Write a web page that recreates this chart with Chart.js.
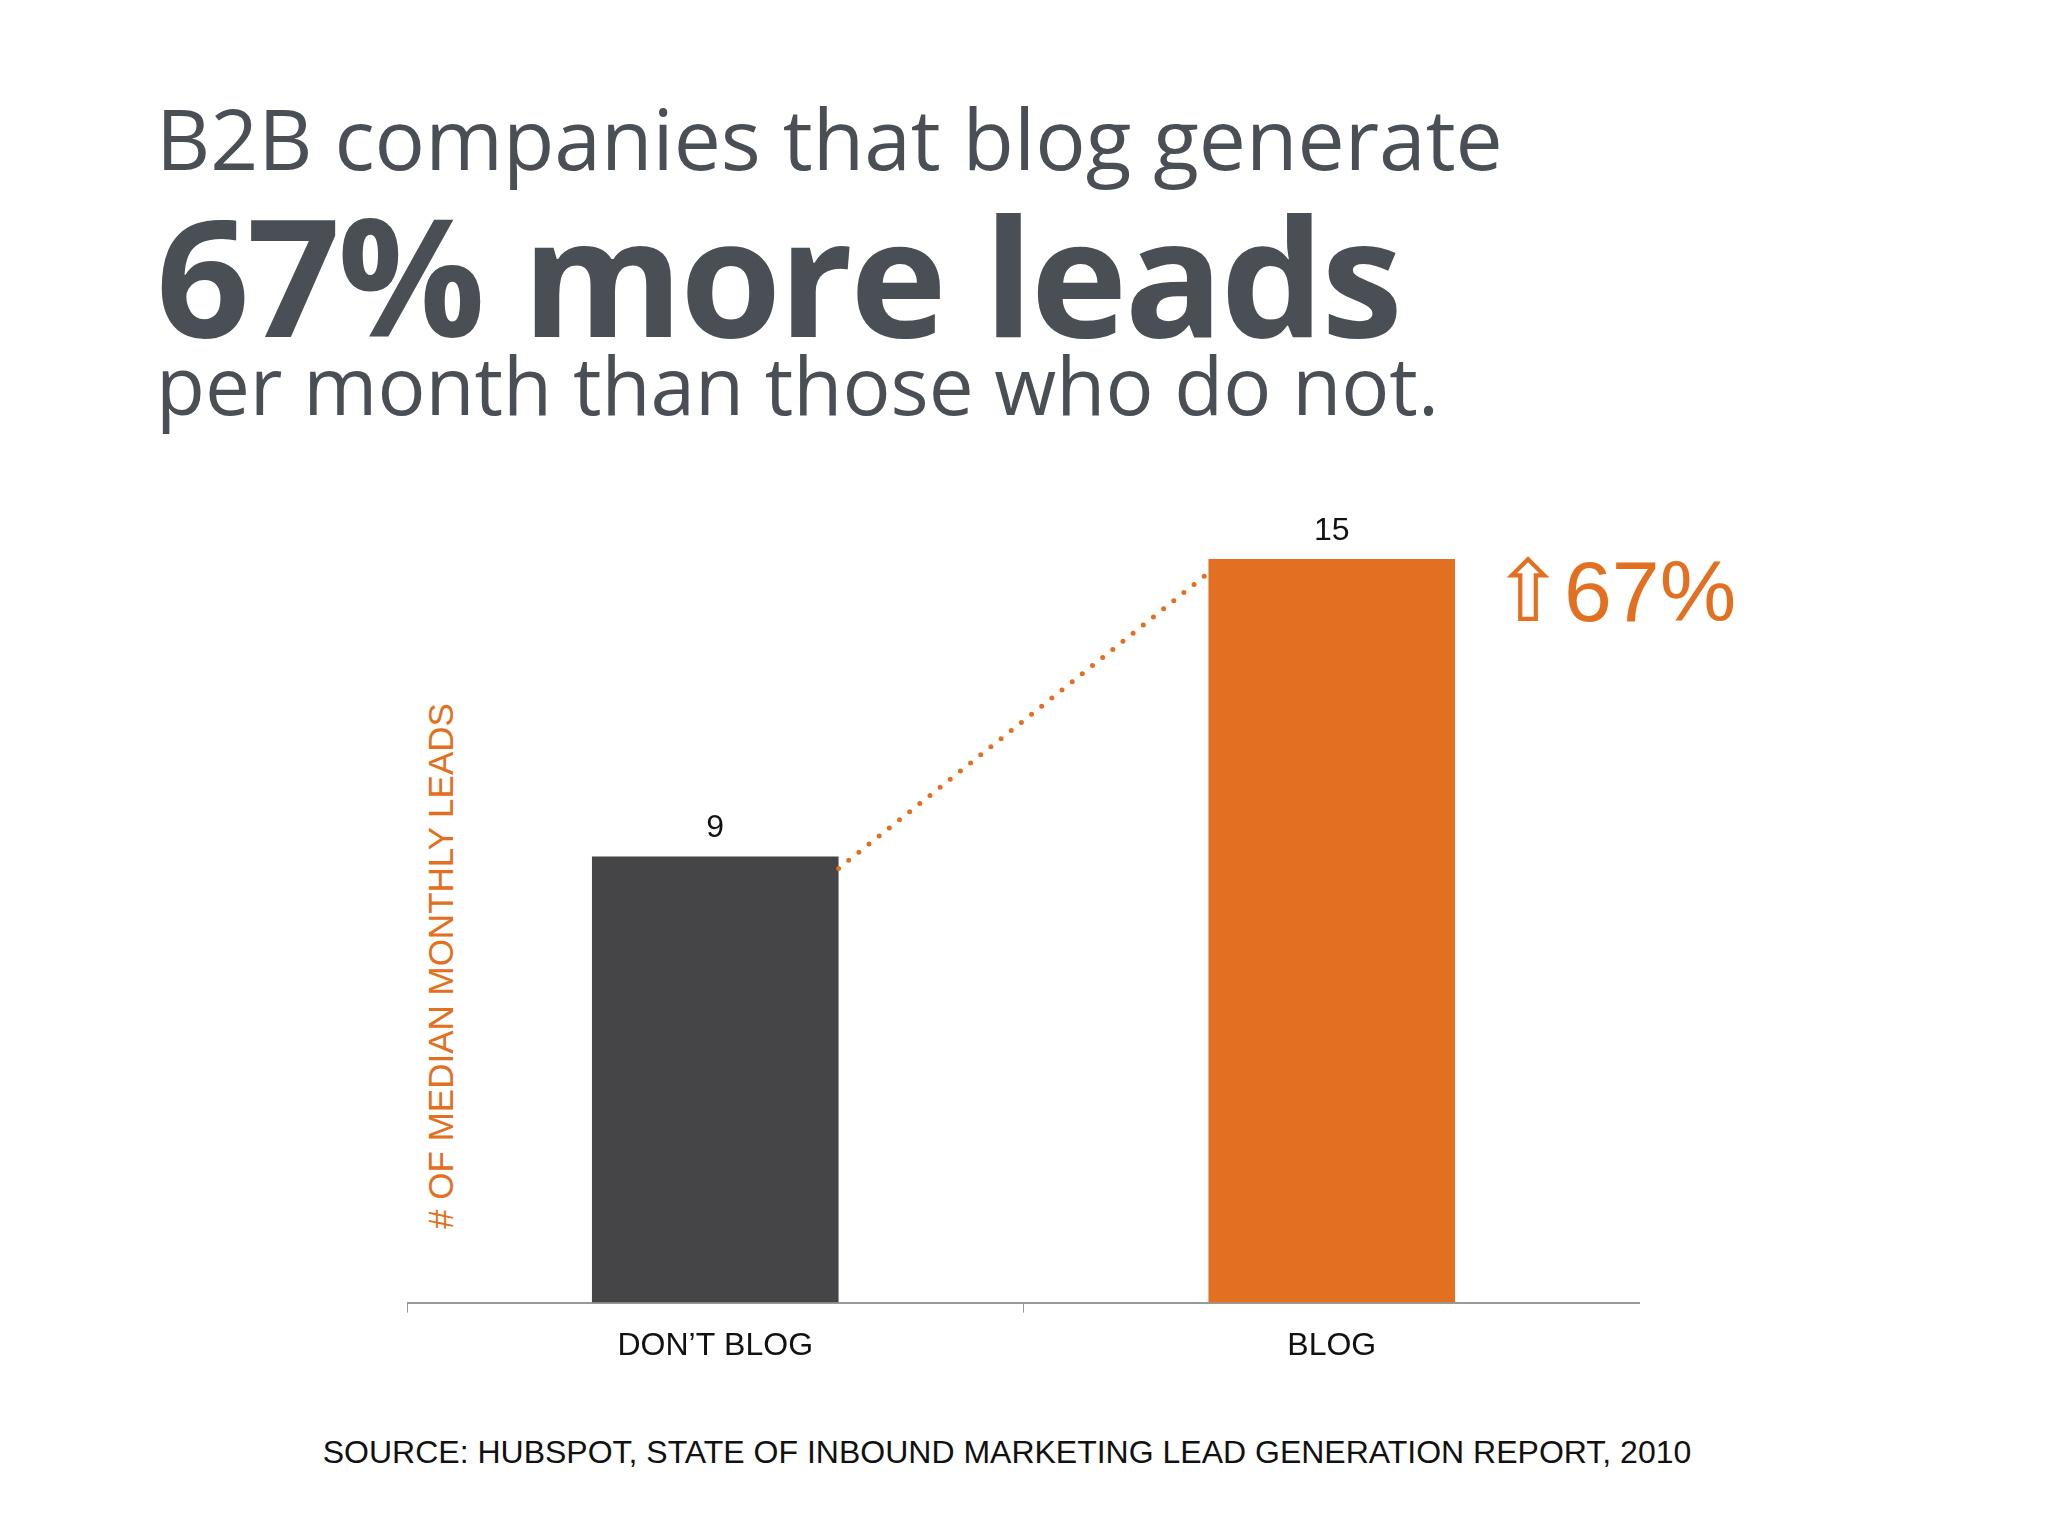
<!DOCTYPE html>
<html><head><meta charset="utf-8">
<script src="https://cdn.jsdelivr.net/npm/chart.js@4"></script>
<style>
body{margin:0;width:2048px;height:1536px;background:#fff;position:relative;overflow:hidden;font-family:"Open Sans",sans-serif;color:#4a4f55}
.t{position:absolute;left:156px;white-space:nowrap;line-height:1}
#yt{position:absolute;left:441px;top:966px;transform:translate(-50%,-50%) rotate(-90deg);color:#e27020;font-family:"Liberation Sans",Arial,sans-serif;font-size:35px;white-space:nowrap}
#up{position:absolute;left:1492px;top:548px;color:#e27020;font-family:"Liberation Sans",Arial,sans-serif;font-size:86px;line-height:1;white-space:nowrap}
#src{position:absolute;left:0;width:2014px;text-align:center;top:1434px;font-family:"Liberation Sans",Arial,sans-serif;font-size:32px;color:#111}
#wrap{position:absolute;left:407px;top:499px;width:1233px;height:880px}
</style></head><body>
<div class="t" style="top:96px;font-size:84px">B2B companies that blog generate</div>
<div class="t" style="top:192px;font-size:164px;font-weight:700;letter-spacing:-3px">67% more leads</div>
<div class="t" style="top:344px;font-size:80px">per month than those who do not.</div>
<div id="yt"># OF MEDIAN MONTHLY LEADS</div>
<div id="up">⇧67%</div>
<div id="wrap"><canvas id="c"></canvas></div>
<div id="src">SOURCE: HUBSPOT, STATE OF INBOUND MARKETING LEAD GENERATION REPORT, 2010</div>
<script>
const categories=["DON’T BLOG","BLOG"];
const leads=[9,15];
const barColors=["#454547","#e27020"];
const deco={id:'deco',afterDatasetsDraw(ch){
 const c=ch.ctx,m=ch.getDatasetMeta(0).data;
 c.save();c.fillStyle='#111';c.font='32px "Liberation Sans",Arial';c.textAlign='center';c.textBaseline='bottom';
 m.forEach((b,i)=>c.fillText(leads[i],b.x,b.y-12));
 const a=m[0],b=m[1];
 c.strokeStyle='#e27020';c.lineWidth=5;c.lineCap='round';c.setLineDash([0,13]);
 c.beginPath();c.moveTo(a.x+a.width/2,a.y+12);c.lineTo(b.x-b.width/2,b.y+14);c.stroke();
 c.restore();}};
new Chart(document.getElementById('c'),{type:'bar',
 data:{labels:categories,datasets:[{data:leads,backgroundColor:barColors,barPercentage:0.4,categoryPercentage:1}]},
 options:{responsive:true,maintainAspectRatio:false,animation:false,
  layout:{padding:{top:60}},
  plugins:{legend:{display:false},tooltip:{enabled:false}},
  scales:{y:{display:false,min:0,max:15},
   x:{grid:{display:true,drawOnChartArea:false,tickLength:10,color:'#999',offset:true},border:{color:'#999',width:2},
    ticks:{color:'#111',font:{size:32,family:'"Liberation Sans",Arial'},padding:14}}}},
 plugins:[deco]});
</script></body></html>
